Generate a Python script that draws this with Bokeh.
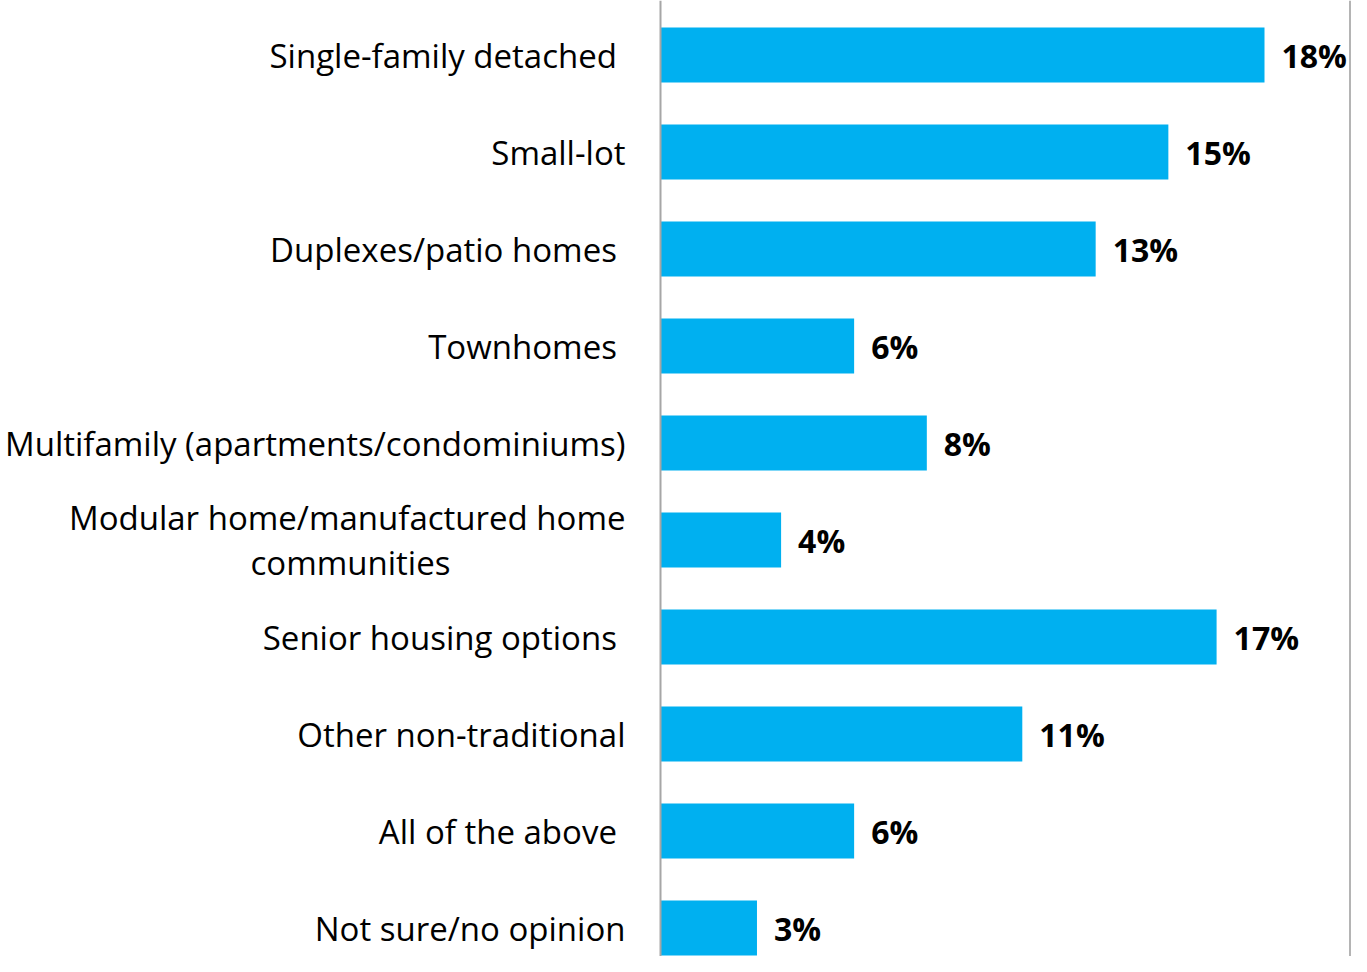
import numpy as np
from bokeh.plotting import figure
from bokeh.models import Range1d, Span, ColumnDataSource
from bokeh.core.properties import value
from bokeh.embed import file_html
from bokeh.resources import INLINE

categories = [
    "Single-family detached ",
    "Small-lot",
    "Duplexes/patio homes ",
    "Townhomes ",
    "Multifamily (apartments/condominiums)",
    "Modular home/manufactured home\ncommunities",
    "Senior housing options ",
    "Other non-traditional",
    "All of the above ",
    "Not sure/no opinion",
]
values = [18.03, 15.16, 12.99, 5.78, 7.95, 3.6, 16.6, 10.8, 5.78, 2.88]
value_labels = ["18%", "15%", "13%", "6%", "8%", "4%", "17%", "11%", "6%", "3%"]

n = len(categories)
ypos = np.arange(n)[::-1].astype(float)

FONT = "Open Sans"
BAR_COLOR = "#00B0F0"
LABEL_SIZE = "33px"
VALUE_SIZE = "32px"

W, H = 1351, 956
px_per_unit = 33.5
axis_px = 660
x_start = -axis_px / px_per_unit
x_end = (W - axis_px) / px_per_unit
y_start = -((H - 927.5) / 97.0)
y_end = (n - 1) + 54.5 / 97.0

p = figure(width=W, height=H, output_backend="svg", toolbar_location=None,
           x_range=Range1d(x_start, x_end), y_range=Range1d(y_start, y_end),
           min_border=0, min_border_left=0, min_border_right=0,
           min_border_top=0, min_border_bottom=0)
p.axis.visible = False
p.grid.visible = False
p.outline_line_color = None
p.background_fill_color = "white"
p.border_fill_color = "white"

src = ColumnDataSource(dict(y=ypos, v=values, lab=value_labels))
p.hbar(y="y", right="v", left=0, height=0.567, source=src,
       fill_color=BAR_COLOR, line_color=None)

p.text(x="v", y="y", text="lab", source=src, x_offset=17,
       text_align="left", text_baseline="middle",
       text_font=value(FONT), text_font_style="bold",
       text_font_size=VALUE_SIZE, text_color="#000000")

single_idx = [i for i, c in enumerate(categories) if "\n" not in c]
multi_idx = [i for i, c in enumerate(categories) if "\n" in c]

lsrc = ColumnDataSource(dict(x=[0.0] * len(single_idx),
                             y=[ypos[i] for i in single_idx],
                             t=[categories[i] for i in single_idx]))
p.text(x="x", y="y", text="t", source=lsrc, x_offset=-35,
       text_align="right", text_baseline="middle",
       text_font=value(FONT), text_font_size=LABEL_SIZE, text_color="#000000")

for i in multi_idx:
    lines = categories[i].split("\n")
    p.text(x=[0.0], y=[ypos[i]], text=[lines[0]], x_offset=-35, y_offset=-23,
           text_align="right", text_baseline="middle",
           text_font=value(FONT), text_font_size=LABEL_SIZE, text_color="#000000")
    p.text(x=[0.0], y=[ypos[i]], text=[lines[1]], x_offset=-310, y_offset=22,
           text_align="center", text_baseline="middle",
           text_font=value(FONT), text_font_size=LABEL_SIZE, text_color="#000000")

p.add_layout(Span(location=0, dimension="height", line_color="#A6A6A6", line_width=2))
p.add_layout(Span(location=(W - 1.5 - axis_px) / px_per_unit, dimension="height",
                  line_color="#B4B4B4", line_width=2))

open("out.html", "w").write(file_html(p, INLINE))
